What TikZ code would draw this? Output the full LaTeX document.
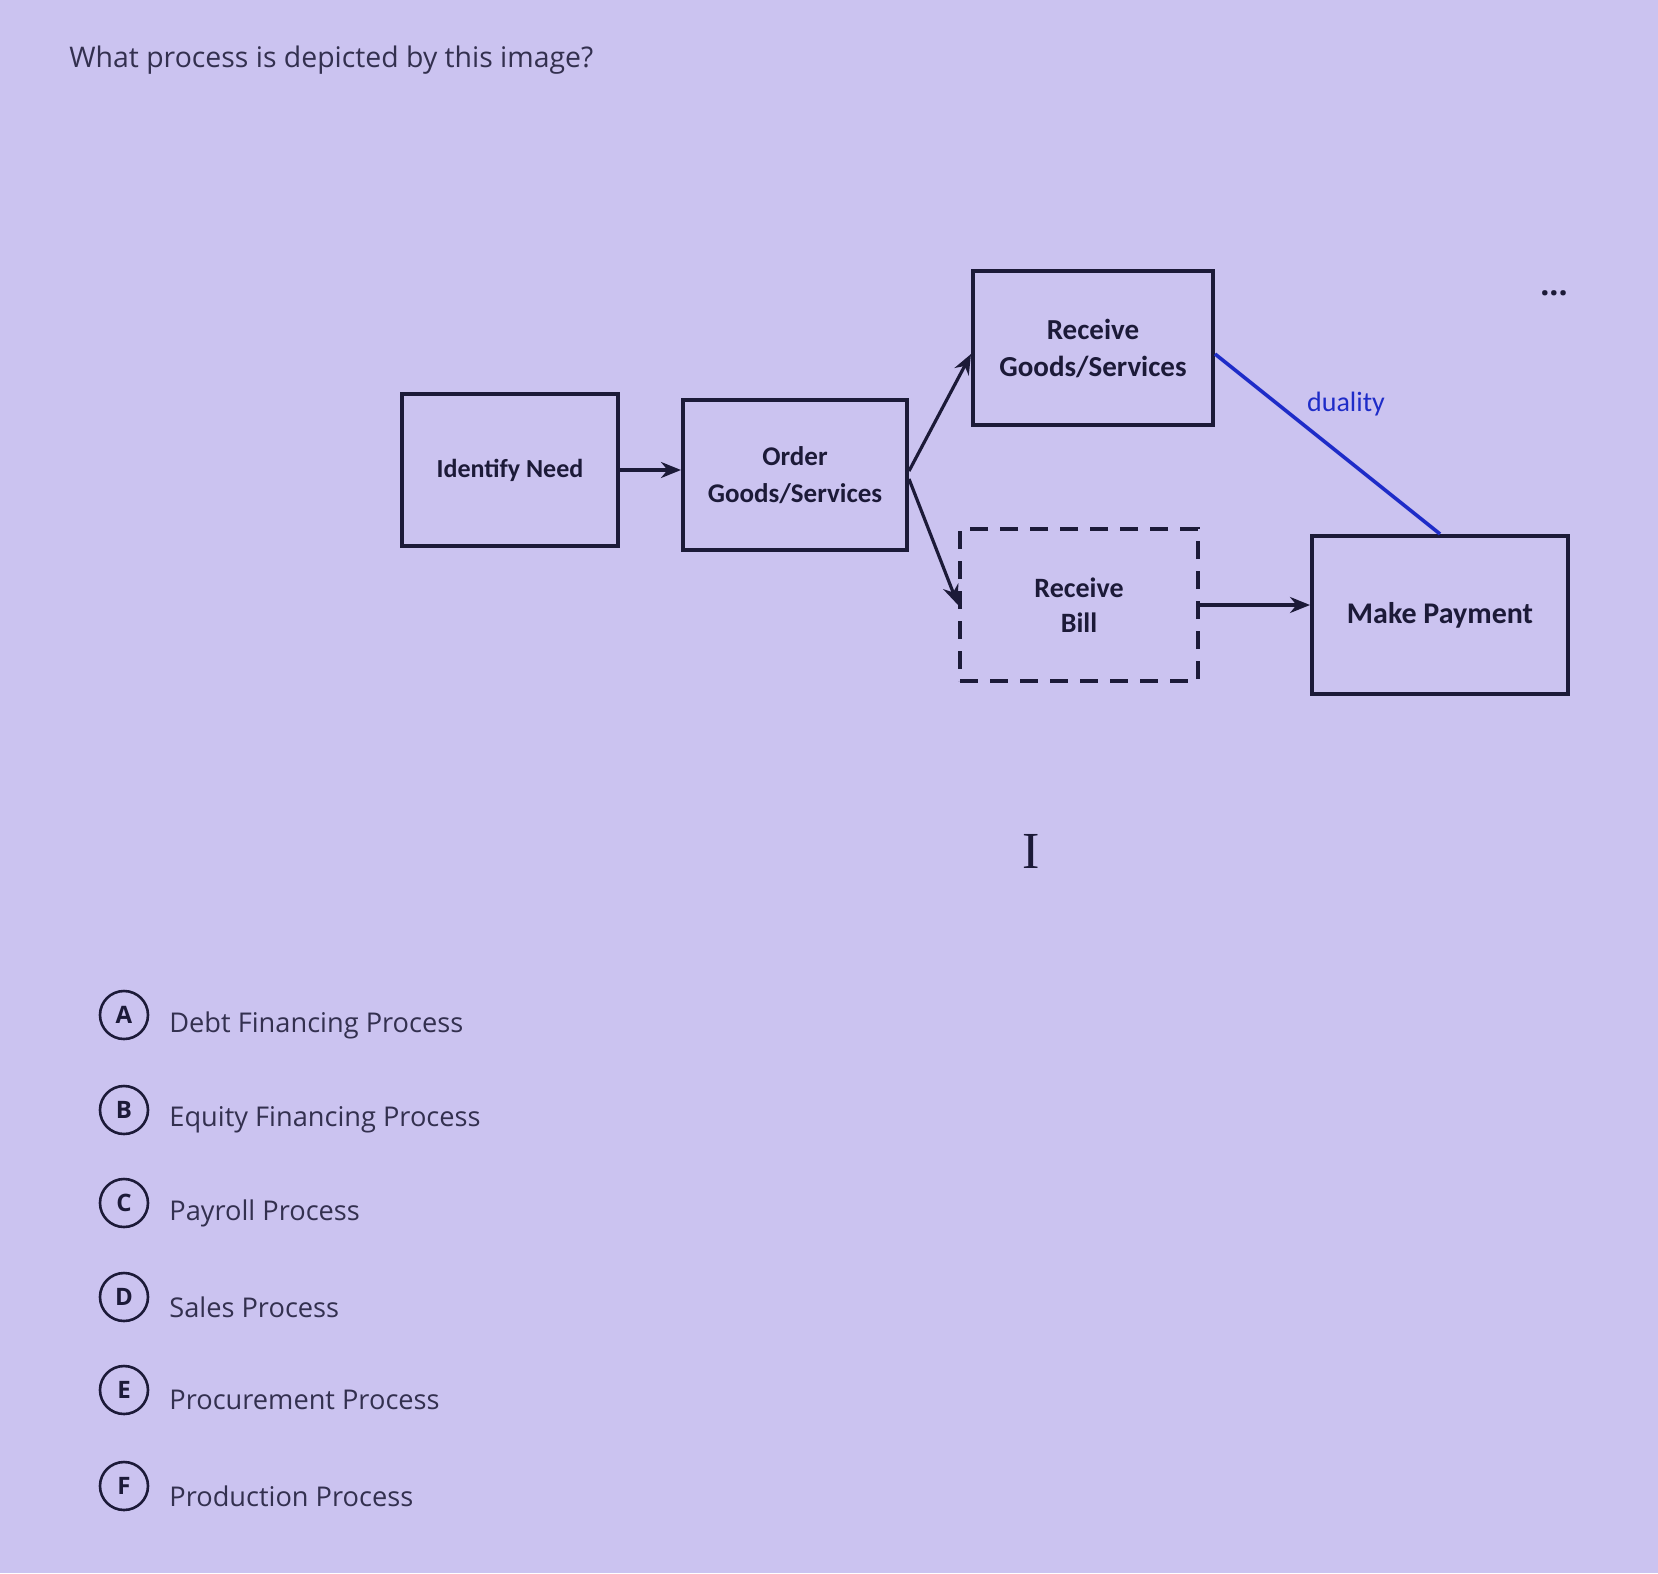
\documentclass[tikz,border=0pt]{standalone}
\usepackage{fontspec}
\setmainfont{Open Sans}
\newfontfamily\boxfont{Carlito}
\newfontfamily\cursorfont{Liberation Serif}
\usetikzlibrary{arrows.meta}
\definecolor{bgc}{HTML}{CBC3F0}
\definecolor{inkc}{HTML}{1C1A38}
\definecolor{qtext}{HTML}{33304F}
\definecolor{dualc}{HTML}{1E2CC8}
\tikzset{
  procbox/.style={draw=inkc, line width=2pt, rectangle, inner sep=0pt, align=center,
    text=inkc, font=\boxfont\bfseries\fontsize{13}{18.5}\selectfont},
  billbox/.style={procbox, dash pattern=on 9pt off 6pt},
  flow/.style={draw=inkc, line width=1.6pt, -{Stealth[length=10pt,width=8pt]}},
  optcircle/.style={circle, draw=inkc, line width=1.3pt, minimum size=24pt, inner sep=0pt,
    text=inkc, font=\fontsize{12}{14}\selectfont\bfseries},
  opttext/.style={anchor=west, text=qtext, inner sep=0pt, font=\fontsize{13.6}{16}\selectfont}
}
\begin{document}
\begin{tikzpicture}[x=0.5pt,y=-0.5pt]
\fill[bgc] (0,0) rectangle (1658,1573);
\useasboundingbox (0,0) rectangle (1658,1573);

\node[anchor=west, text=qtext, inner sep=0pt, font=\fontsize{14.2}{17}\selectfont] (title) at (69,60) {What process is depicted by this image?};

\node[procbox, minimum width=108pt, minimum height=76pt] (need) at (510,470) {Identify Need};
\node[procbox, minimum width=112pt, minimum height=75pt, font=\boxfont\bfseries\fontsize{13.5}{18.5}\selectfont] (order) at (795,475) {Order\\Goods/Services};
\node[procbox, minimum width=120pt, minimum height=77pt, font=\boxfont\bfseries\fontsize{14.5}{18.5}\selectfont] (recg) at (1093,348) {Receive\\Goods/Services};
\node[billbox, minimum width=119pt, minimum height=76pt, font=\boxfont\bfseries\fontsize{14}{17.5}\selectfont] (bill) at (1079,605) {Receive\\Bill};
\node[procbox, minimum width=128pt, minimum height=79pt, font=\boxfont\bfseries\fontsize{15}{18}\selectfont] (pay) at (1440,615) {Make Payment};

\draw[flow] (need.east) -- (order.west |- need.east);
\draw[flow] ([yshift=2pt]order.east) -- ([yshift=-3pt]recg.west);
\draw[flow] ([yshift=-2pt]order.east) -- (bill.west);
\draw[flow] (bill.east) -- (pay.west |- bill.east);
\draw[dualc, line width=1.8pt] ([yshift=-3pt]recg.east) -- (pay.north);
\node[text=dualc, font=\boxfont\fontsize{14}{16}\selectfont] (dual) at (1346,404) {duality};

\node[text=inkc, font=\bfseries\fontsize{16}{16}\selectfont] (dots) at (1554,293) {...};
\node[text=inkc, font=\cursorfont\fontsize{26}{26}\selectfont] (cursor) at (1031,851) {I};

\foreach \L/\T/\Y in {A/Debt Financing Process/1015, B/Equity Financing Process/1110, C/Payroll Process/1203, D/Sales Process/1297, E/Procurement Process/1390, F/Production Process/1486}{
  \node[optcircle] (o\L) at (124,\Y) {\L};
  \node[opttext] (t\L) at (169,\Y+10) {\T};
}
\end{tikzpicture}
\end{document}
